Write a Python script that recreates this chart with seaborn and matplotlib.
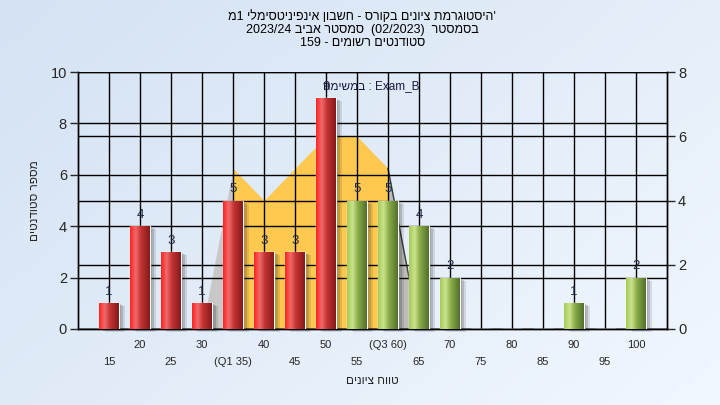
import re
import numpy as np
import matplotlib
matplotlib.use("Agg")
import matplotlib.pyplot as plt
import matplotlib.transforms as mtransforms
from matplotlib.colors import LinearSegmentedColormap
from matplotlib.patches import Rectangle
import seaborn as sns
import pandas as pd

# ----------------------------------------------------------
# Donnees
# ----------------------------------------------------------
categories = ["15", "20", "25", "30", "35", "40", "45", "50", "55",
              "60", "65", "70", "75", "80", "85", "90", "95", "100"]
counts = [1, 4, 3, 1, 5, 3, 3, 9, 5, 5, 4, 2, 0, 0, 0, 1, 0, 2]
tick_labels = ["15", "20", "25", "30", "(Q1 35)", "40", "45", "50", "55",
               "(Q3 60)", "65", "70", "75", "80", "85", "90", "95", "100"]
# courbe de fond (axe de droite)
area_cats = ["30", "35", "40", "45", "50", "55", "60", "65"]
area_vals = [0, 5, 4, 5, 6, 6, 5, 0]
pass_grade = 55

title_lines = ["'היסטוגרמת ציונים בקורס - חשבון אינפיניטסימלי 1מ",
               "בסמסטר  (02/2023)  סמסטר אביב 2023/24",
               "סטודנטים רשומים - 159"]
xlabel = "טווח ציונים"
ylabel = "מספר סטודנטים"
note = "המישמב : Exam_B"   # deja en ordre visuel


def to_visual(s):
    # ordre d'affichage droite-a-gauche (matplotlib ne gere pas le bidi)
    runs = re.findall(r"[A-Za-z0-9_]+(?:[/.][A-Za-z0-9_]+)*|[^A-Za-z0-9_]+", s)
    mirror = str.maketrans("()", ")(")
    out = []
    for r in reversed(runs):
        if re.match(r"[A-Za-z0-9_]", r):
            out.append(r)
        else:
            out.append(r[::-1].translate(mirror))
    return "".join(out)


# ----------------------------------------------------------
# Style
# ----------------------------------------------------------
sns.set_style("white")
plt.rcParams["font.family"] = ["Liberation Sans", "DejaVu Sans"]

df = pd.DataFrame({"grade": categories, "count": counts})
df["passed"] = [int(c) >= pass_grade for c in categories]

fig = plt.figure(figsize=(7.2, 4.05), dpi=100)

# fond degrade
bg = fig.add_axes([0, 0, 1, 1], zorder=-10)
gx, gy = np.meshgrid(np.linspace(0, 1, 200), np.linspace(0, 1, 120))
t = (gx * 0.6 + gy * 0.4)
c0 = np.array([212, 226, 243]) / 255
c1 = np.array([241, 247, 254]) / 255
bg.imshow(c0 + (c1 - c0) * t[..., None], aspect="auto", extent=[0, 1, 0, 1])
bg.axis("off")

ax = fig.add_axes([78 / 720, 76 / 405, 589 / 720, 257 / 405])
ax2 = ax.twinx()
ax.set_zorder(2)
ax2.set_zorder(1)
ax.patch.set_visible(False)
ax2.set_facecolor("#b4b4b4")

# ----------------------------------------------------------
# Barres
# ----------------------------------------------------------
pal = {c: ("#9ec25a" if p else "#e02828") for c, p in zip(df["grade"], df["passed"])}
sns.barplot(data=df, x="grade", y="count", hue="grade", palette=pal,
            order=categories, width=0.62, legend=False, ax=ax, zorder=3)

red_cm = LinearSegmentedColormap.from_list(
    "r", [(0, "#ff2222"), (0.28, "#f06a6a"), (0.55, "#c43434"), (1, "#861a1a")])
green_cm = LinearSegmentedColormap.from_list(
    "g", [(0, "#a6ca58"), (0.28, "#c9e38c"), (0.55, "#8aac48"), (1, "#52702a")])
grad = np.linspace(0, 1, 64).reshape(1, -1)

for patch, cnt, p in zip(ax.patches, counts, df["passed"]):
    if cnt <= 0:
        continue
    x0 = patch.get_x()
    w = patch.get_width()
    for k, a in [(6, 0.10), (4, 0.15), (2, 0.2)]:
        off = mtransforms.ScaledTranslation(k / 100, -k / 200, fig.dpi_scale_trans)
        ax.add_patch(Rectangle((x0, 0), w, cnt, transform=ax.transData + off,
                               color="black", alpha=a, lw=0, zorder=2.5,
                               clip_on=False))
    im = ax.imshow(grad, cmap=green_cm if p else red_cm, aspect="auto",
                   extent=[x0, x0 + w, 0, cnt], zorder=3.5)
    im.set_clip_path(patch)
    ax.text(x0 + w / 2, cnt + 0.2, str(cnt), ha="center", va="bottom",
            fontsize=9.5, color="#1f2a44", zorder=5)

# ----------------------------------------------------------
# Zone de fond (axe de droite)
# ----------------------------------------------------------
pos = [categories.index(c) for c in area_cats]
ax2.fill_between(pos[0:2], area_vals[0:2], color="#c8c8c8", lw=0, zorder=0.2)
ax2.fill_between(pos[1:7], area_vals[1:7], color="#ffc94f", lw=0, zorder=0.3)
ax2.fill_between(pos[6:8], area_vals[6:8], color="#bcbcbc", lw=0, zorder=0.2)
ax2.plot(pos[6:8], area_vals[6:8], color="#3a3a3a", lw=1, zorder=0.4)

# ----------------------------------------------------------
# Axes
# ----------------------------------------------------------
ax.set_xlim(-1, 18)
ax.set_ylim(0, 10)
ax2.set_ylim(0, 8)
ax.set_yticks([0, 2, 4, 6, 8, 10])
ax2.set_yticks([0, 2, 4, 6, 8])

ax.set_xticks(range(len(categories)))
ax.set_xticklabels(tick_labels, fontsize=8)
ax.set_xticks(range(-1, 19), minor=True)
for i, tk in enumerate(ax.xaxis.get_major_ticks()):
    tk.set_pad(20 if i % 2 == 0 else 8)
ax.tick_params(axis="x", which="both", length=5, width=1, color="black",
               direction="out")
ax.tick_params(axis="x", which="major", length=0)
ax.tick_params(axis="y", labelsize=10.5, length=6, width=1, direction="out", pad=2)
ax2.tick_params(axis="y", labelsize=10.5, length=6, width=1, direction="out", pad=2)

ax.grid(True, axis="both", which="major", color="black", lw=1, zorder=1)
ax.set_axisbelow(False)
for gl in ax.get_xgridlines() + ax.get_ygridlines():
    gl.set_zorder(1)
ax2.grid(True, axis="y", color="black", lw=1)
ax2.set_axisbelow(True)

for a in (ax, ax2):
    for s in a.spines.values():
        s.set_color("black")
        s.set_linewidth(1)
ax.spines["top"].set_visible(False)
ax2.spines["top"].set_visible(False)

ax.set_xlabel(to_visual(xlabel), fontsize=8.5, labelpad=6)
ax.set_ylabel(to_visual(ylabel), fontsize=8.5, labelpad=7)
ax.text(0.58, 0.945, note, transform=ax.transAxes, ha="right", va="center",
        fontsize=8.5, color="#1a1a40", zorder=6)

for k, line in enumerate(title_lines):
    fig.text(0.503, 1 - (17 + 13 * k) / 405, to_visual(line), ha="center",
             va="center", fontsize=9, color="black")

plt.savefig("out.png", dpi=100)
plt.close()
